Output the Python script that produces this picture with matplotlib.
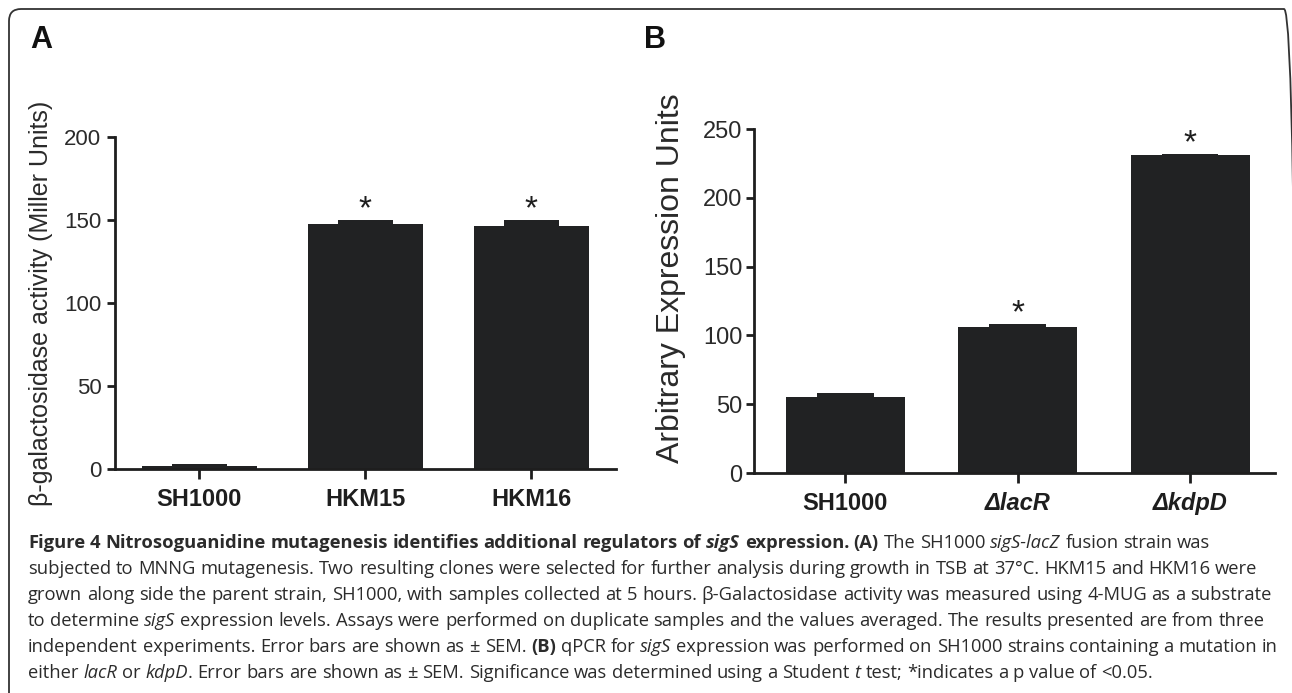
import re
import numpy as np
import matplotlib
matplotlib.use('Agg')
import matplotlib.pyplot as plt
from matplotlib.patches import FancyBboxPatch
from matplotlib.transforms import IdentityTransform

# panel A - beta-galactosidase activity
strains_a = ['SH1000', 'HKM15', 'HKM16']
miller_a = [1.8, 147.5, 146.5]
sem_a = [1.2, 2.3, 3.5]
star_a = [False, True, True]
yticks_a = [0, 50, 100, 150, 200]

# panel B - qPCR
strains_b = ['SH1000', '\u0394lacR', '\u0394kdpD']
expr_b = [55.2, 106.0, 231.0]
sem_b = [2.9, 2.3, 0.6]
star_b = [False, True, True]
yticks_b = [0, 50, 100, 150, 200, 250]

caption = [
    '<b>Figure 4 Nitrosoguanidine mutagenesis identifies additional regulators of </b><bi>sigS</bi>'
    '<b> expression. (A)</b> The SH1000 <i>sigS-lacZ</i> fusion strain was',
    'subjected to MNNG mutagenesis. Two resulting clones were selected for further analysis '
    'during growth in TSB at 37\u00b0C. HKM15 and HKM16 were',
    'grown along side the parent strain, SH1000, with samples collected at 5 hours. '
    '\u03b2-Galactosidase activity was measured using 4-MUG as a substrate',
    'to determine <i>sigS</i> expression levels. Assays were performed on duplicate samples '
    'and the values averaged. The results presented are from three',
    'independent experiments. Error bars are shown as \u00b1 SEM. <b>(B)</b> qPCR for <i>sigS</i> '
    'expression was performed on SH1000 strains containing a mutation in',
    'either <i>lacR</i> or <i>kdpD</i>. Error bars are shown as \u00b1 SEM. Significance was '
    'determined using a Student <i>t</i> test; *indicates a p value of <0.05.',
]

W, H = 1292, 693
BAR = '#212223'
INK = '#1e1e1e'
plt.rcParams['font.family'] = ['Liberation Sans', 'DejaVu Sans']

fig = plt.figure(figsize=(W / 100, H / 100), dpi=100)
renderer = fig.canvas.get_renderer()


def px(x, y):
    return x / W, 1 - y / H


def bar_panel(ax, names, vals, errs, stars, yticks, xlim, ytick_fs, ypad):
    x = np.arange(len(names))
    ax.bar(x, vals, width=0.69, color=BAR, edgecolor='none', zorder=2)
    # SEM drawn as the raised cap on top of each bar
    ax.bar(x, errs, bottom=vals, width=0.33, color=BAR, edgecolor='none', zorder=2)
    tops = np.array(vals) + np.array(errs)
    for xi, top, s in zip(x, tops, stars):
        if s:
            ax.annotate('*', (xi, top), xytext=(0, 1.5), textcoords='offset points',
                        ha='center', va='baseline', fontsize=24, color=INK)
    ax.set_xlim(*xlim)
    ax.set_ylim(0, yticks[-1])
    ax.set_yticks(yticks)
    ax.set_xticks(x)
    ax.set_xticklabels(names, fontsize=17, fontweight='bold', color='#2a2a2a')
    ax.tick_params(axis='y', labelsize=ytick_fs, length=6, width=2, pad=ypad,
                   colors=INK, labelcolor='#2a2a2a')
    ax.tick_params(axis='x', length=7, width=2, pad=7, colors=INK)
    for side in ['top', 'right']:
        ax.spines[side].set_visible(False)
    for side in ['left', 'bottom']:
        ax.spines[side].set_linewidth(2)
        ax.spines[side].set_color(INK)


axA = fig.add_axes([115.3 / W, 1 - 469 / H, 500.4 / W, 332 / H])
bar_panel(axA, strains_a, miller_a, sem_a, star_a, yticks_a, (-0.507, 2.508), 16, 4)

axB = fig.add_axes([754 / W, 1 - 473 / H, 520.5 / W, 344 / H])
bar_panel(axB, strains_b, expr_b, sem_b, star_b, yticks_b, (-0.53, 2.49), 17, 2.5)
for lbl in axB.get_xticklabels()[1:]:
    lbl.set_style('italic')

fig.text(*px(41.5, 303.5), '\u03b2-galactosidase activity (Miller Units)', rotation=90,
         ha='center', va='center', fontsize=18, color='#2a2a2a')
fig.text(*px(671, 278), 'Arbitrary Expression Units', rotation=90,
         ha='center', va='center', fontsize=23, color='#2a2a2a')

fig.text(*px(30, 48), 'A', fontsize=22, fontweight='bold', va='baseline', color='#111')
fig.text(*px(644, 48), 'B', fontsize=22, fontweight='bold', va='baseline', color='#111')

# rounded frame, right and bottom edges run off the picture
frame = FancyBboxPatch((9, -40), 1287, H - 9 + 40, boxstyle='round,pad=0,rounding_size=12',
                       transform=IdentityTransform(), fill=False, edgecolor='#333333',
                       linewidth=1.3)
fig.patches.append(frame)

# caption with mixed bold / italic runs
STYLES = {'': ('normal', 'normal'), 'b': ('bold', 'normal'),
          'i': ('normal', 'italic'), 'bi': ('bold', 'italic')}
CAP_FONT = ['Open Sans', 'DejaVu Sans']


def rich_line(x, y, line, size):
    texts = []
    space = {}
    for key, (wt, st) in STYLES.items():
        a = fig.text(0, 0, 'n n', fontsize=size, fontweight=wt, style=st, family=CAP_FONT)
        b = fig.text(0, 0, 'nn', fontsize=size, fontweight=wt, style=st, family=CAP_FONT)
        space[key] = a.get_window_extent(renderer).width - b.get_window_extent(renderer).width
        a.remove()
        b.remove()
    for part in re.split(r'(<b>.*?</b>|<i>.*?</i>|<bi>.*?</bi>)', line):
        if not part:
            continue
        m = re.match(r'<(b|i|bi)>(.*?)</\1>$', part)
        key, body = (m.group(1), m.group(2)) if m else ('', part)
        wt, st = STYLES[key]
        for piece in re.split(r'( )', body):
            if piece == ' ':
                x += space[key]
            elif piece:
                t = fig.text(x / W, 1 - y / H, piece, fontsize=size, fontweight=wt, style=st,
                             family=CAP_FONT, va='baseline', color='#2b2b2b')
                x += t.get_window_extent(renderer).width
                texts.append(t)
    return texts, x


# fit caption size so the last (unjustified) line has the reference width
probe, end = rich_line(28, 700, caption[-1], 10)
for t in probe:
    t.remove()
cap_size = 10 * (1155 - 28) / (end - 28)

for i, line in enumerate(caption):
    rich_line(28, 548 + 26 * i, line, cap_size)

fig.savefig('out.png', dpi=100)
